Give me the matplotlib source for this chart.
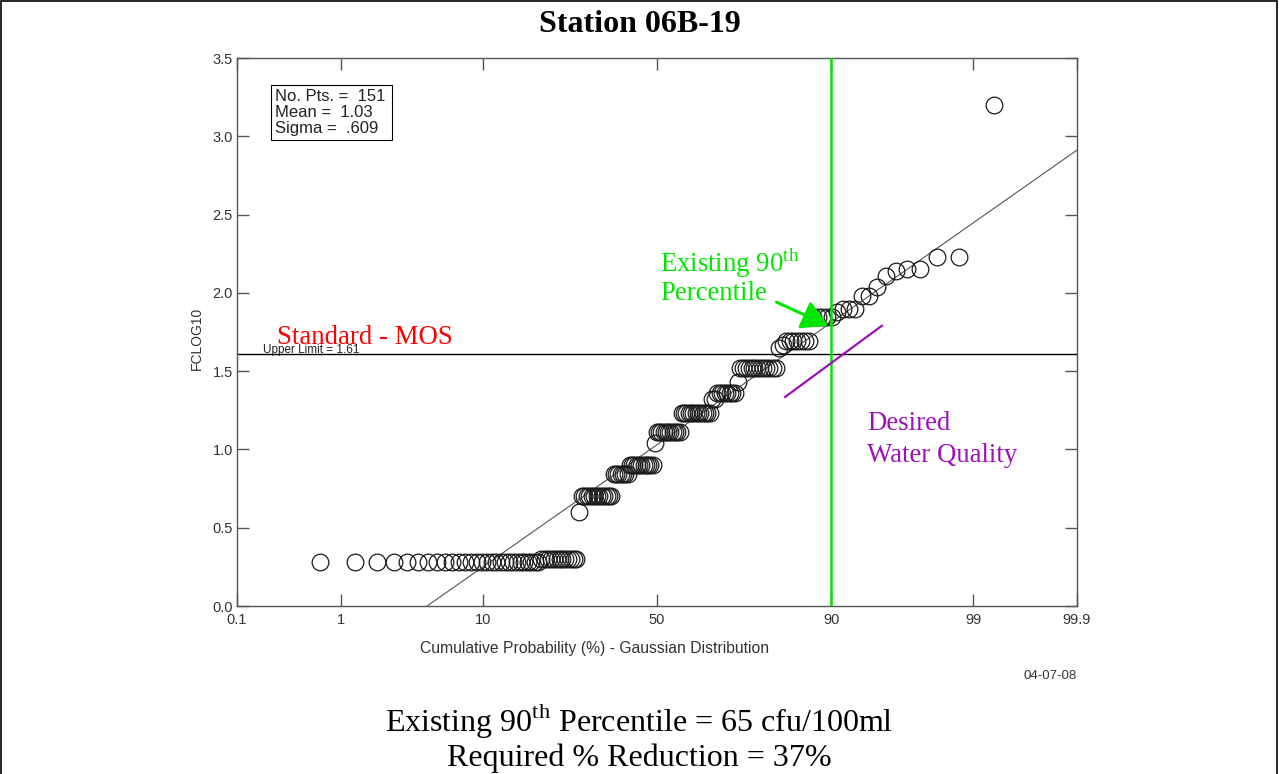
import matplotlib
matplotlib.use("Agg")
import matplotlib.pyplot as plt
import numpy as np
from statistics import NormalDist

# sorted FCLOG10 values, stored as distinct levels with their counts
LEVELS = [0.28, 0.30, 0.60, 0.70, 0.845, 0.903, 1.041, 1.114, 1.23, 1.32,
          1.36, 1.43, 1.52, 1.65, 1.67, 1.69, 1.845, 1.88, 1.90, 1.98,
          2.04, 2.11, 2.14, 2.15, 2.23, 3.20]
COUNTS = [29, 13, 1, 13, 7, 11, 1, 11, 13, 2,
          8, 1, 13, 1, 1, 7, 5, 1, 3, 2,
          1, 1, 1, 2, 2, 1]

FIT_MEAN = 1.03
FIT_SIGMA = 0.609
UPPER_LIMIT = 1.61
PERCENTILE = 90
DESIRED_P = [82.7, 95.1]
DESIRED_Y = [1.335, 1.79]

PROB_TICKS = [0.1, 1, 10, 50, 90, 99, 99.9]
PROB_LABELS = ["0.1", "1", "10", "50", "90", "99", "99.9"]
Y_TICKS = [0.0, 0.5, 1.0, 1.5, 2.0, 2.5, 3.0, 3.5]

GREEN = "#00e600"
PURPLE = "#9b10b8"
SANS = "Liberation Sans"
SERIF = "Liberation Serif"

plt.rcParams["mathtext.fontset"] = "custom"
plt.rcParams["mathtext.rm"] = SERIF
plt.rcParams["font.family"] = SANS

nd = NormalDist()


def pz(pct):
    return np.array([nd.inv_cdf(p / 100.0) for p in np.atleast_1d(pct)])


W, H = 1279, 774
fig = plt.figure(figsize=(W / 100, H / 100), dpi=100)


def fx(px):
    return px / W


def fy(py):
    return 1 - py / H


ax = fig.add_axes([fx(237), fy(606), fx(1077 - 237), (606 - 58) / H])

values = np.repeat(LEVELS, COUNTS)
n = len(values)
z = pz(np.arange(1, n + 1) / (n + 1) * 100)

zlim = pz([0.1, 99.9])
ax.set_xlim(zlim[0], zlim[1])
ax.set_ylim(0, 3.5)

# fitted gaussian line
zz = np.linspace(zlim[0], zlim[1], 50)
ax.plot(zz, FIT_MEAN + FIT_SIGMA * zz, color="#555555", lw=0.8, zorder=2)

ax.axhline(UPPER_LIMIT, color="black", lw=1.0, zorder=2)
ax.axvline(pz(PERCENTILE)[0], color=GREEN, lw=1.8, zorder=4)
ax.plot(pz(DESIRED_P), DESIRED_Y, color=PURPLE, lw=1.6, zorder=4)

ax.plot(z, values, "o", ms=12, mfc="none", mec="#1a1a1a", mew=0.9, zorder=3)

ax.set_xticks(pz(PROB_TICKS))
ax.set_xticklabels(PROB_LABELS)
ax.set_yticks(Y_TICKS)
ax.set_yticklabels([f"{v:.1f}" for v in Y_TICKS])
ax.tick_params(direction="in", length=8.5, width=1, top=True, right=True,
               color="#555555", labelcolor="#333333", labelsize=10.5)
ax.tick_params(axis="x", pad=5)
ax.tick_params(axis="y", pad=3)
for s in ax.spines.values():
    s.set_color("#555555")
    s.set_linewidth(1)

fig.text(fx(197), fy(338), "FCLOG10", rotation=90, ha="center", va="center",
         fontsize=10, color="#333333")
fig.text(fx(595), fy(649), "Cumulative Probability (%) - Gaussian Distribution",
         ha="center", va="center", fontsize=11.3, color="#333333")
fig.text(fx(1050), fy(676), "04-07-08", ha="center", va="center",
         fontsize=9.5, color="#333333")

# stats box
ax.text(0.045, 0.943, f"No. Pts. =  {n}\nMean =  {FIT_MEAN:.2f}\nSigma =  .609  ",
        transform=ax.transAxes, ha="left", va="top", fontsize=12,
        color="#222222", linespacing=1.08,
        bbox=dict(boxstyle="square,pad=0.25", fc="white", ec="black", lw=0.8))

ax.text(0.031, 0.457, f"Upper Limit = {UPPER_LIMIT}", transform=ax.transAxes,
        fontsize=8.5, color="#222222", ha="left", va="bottom")

fig.text(fx(277), fy(338), "Standard - MOS", color="red", family=SERIF,
         fontsize=19.3, ha="left", va="center")
fig.text(fx(660), fy(263), "Existing 90$^{\\mathrm{th}}$", color=GREEN,
         family=SERIF, fontsize=19.3, ha="left", va="center")
fig.text(fx(660), fy(293), "Percentile", color=GREEN, family=SERIF,
         fontsize=19.3, ha="left", va="center")
fig.text(fx(867), fy(424), "Desired", color=PURPLE, family=SERIF,
         fontsize=19.3, ha="left", va="center")
fig.text(fx(867), fy(455), "Water Quality", color=PURPLE, family=SERIF,
         fontsize=19.3, ha="left", va="center")

ax.annotate("", xy=(fx(831), fy(327)), xytext=(fx(774), fy(301)),
            xycoords="figure fraction", textcoords="figure fraction",
            arrowprops=dict(arrowstyle="-|>,head_length=1.6,head_width=0.9",
                            color=GREEN, lw=2.2), zorder=5)

fig.text(0.5, fy(25), "Station 06B-19", ha="center", va="center",
         family=SERIF, fontsize=23, fontweight="bold")
fig.text(0.5, fy(720), "Existing 90$^{\\mathrm{th}}$ Percentile = 65 cfu/100ml",
         ha="center", va="center", family=SERIF, fontsize=23)
fig.text(0.5, fy(758), "Required % Reduction = 37%", ha="center", va="center",
         family=SERIF, fontsize=23)

# outer frame (bottom edge falls outside the picture)
frame = plt.Rectangle((fx(1), -0.02), fx(W - 3), 1.02 - 1 / H, transform=fig.transFigure,
                      fill=False, ec="black", lw=1.2)
fig.patches.append(frame)

fig.savefig("out.png", dpi=100)
